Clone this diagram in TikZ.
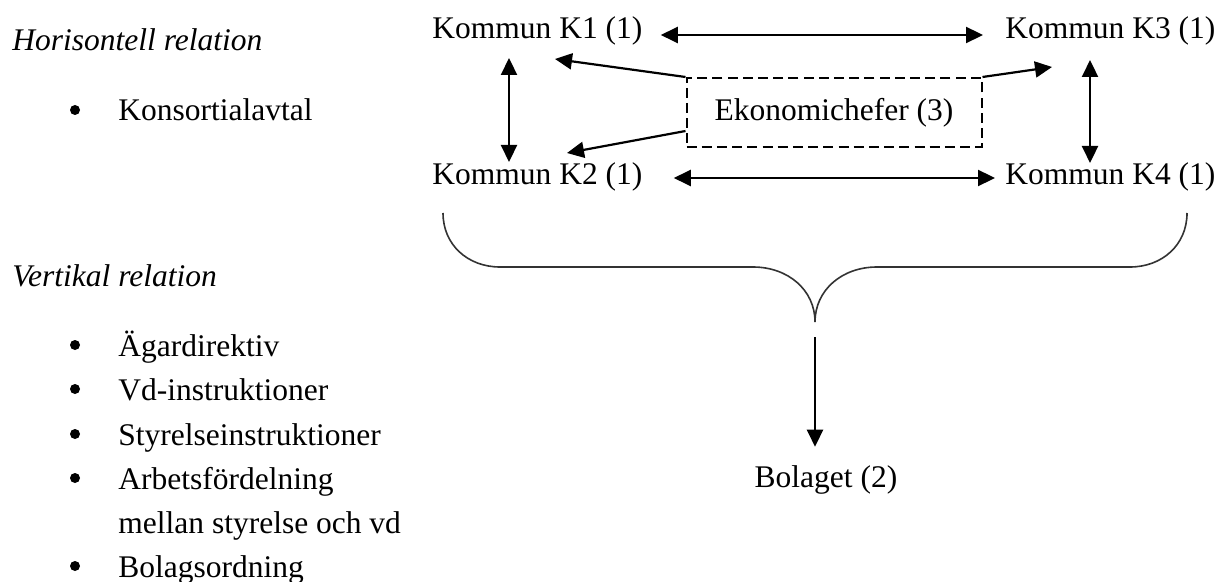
\documentclass[tikz,border=0pt]{standalone}
\usepackage{fontspec}
\setmainfont{Liberation Serif}
\usetikzlibrary{arrows.meta,calc}
\begin{document}
\begin{tikzpicture}[x=0.5pt,y=-0.5pt,
  txt/.style={inner sep=0pt, font=\fontsize{15.75pt}{19pt}\selectfont},
  head/.style={txt, anchor=base west, font=\fontsize{15.75pt}{19pt}\selectfont\itshape},
  item/.style={txt, anchor=base west},
  kommun/.style={txt, anchor=base west},
  tip/.tip={Triangle[length=8.5pt,width=8pt]},
  link/.style={line width=1.1pt, tip-tip},
  ptr/.style={line width=1.1pt, -tip},
  bull/.style={circle, fill, inner sep=0pt, minimum size=5pt},
  dashbox/.style={txt, draw, line width=1pt, dash pattern=on 5pt off 2.6pt,
    minimum width=147.5pt, minimum height=34.5pt},
  brace/.style={line width=0.8pt, draw=black!80}
]
\useasboundingbox (0,0) rectangle (1218,582);

% left column: relation types
\node[head] (hor) at (12,51) {Horisontell relation};
\node[bull] (b0) at (75,110) {};
\node[item] (kons) at (118,121) {Konsortialavtal};

\node[head] (ver) at (12,286) {Vertikal relation};
\node[bull] (b1) at (75,345) {};
\node[item] (i1) at (118,356) {Ägardirektiv};
\node[bull] (b2) at (75,389) {};
\node[item] (i2) at (118,400) {Vd-instruktioner};
\node[bull] (b3) at (75,434) {};
\node[item] (i3) at (118,445) {Styrelseinstruktioner};
\node[bull] (b4) at (75,478) {};
\node[item] (i4) at (118,489) {Arbetsfördelning};
\node[item] (i4b) at (118,533) {mellan styrelse och vd};
\node[bull] (b5) at (75,566) {};
\node[item] (i5) at (118,577) {Bolagsordning};

% municipalities
\node[kommun] (K1) at (432,39) {Kommun K1 (1)};
\node[kommun] (K3) at (1005,39) {Kommun K3 (1)};
\node[kommun] (K2) at (432,185) {Kommun K2 (1)};
\node[kommun] (K4) at (1005,185) {Kommun K4 (1)};

% finance managers
\node[dashbox] (eko) at (834,112.5) {Ekonomichefer (3)};

% company
\node[txt, anchor=base] (bol) at (826,487) {Bolaget (2)};

% horizontal links
\draw[link] ($(K1.base east)+(18,-4)$) -- ($(K3.base west)+(-22,-4)$);
\draw[link] ($(K2.base east)+(31,-7)$) -- ($(K4.base west)+(-10,-7)$);

% vertical links
\draw[link] ($(K1.base west)+(77,19)$) -- ($(K2.base west)+(77,-23)$);
\draw[link] ($(K3.base west)+(85,21)$) -- ($(K4.base west)+(85,-22)$);

% arrows from the finance managers
\draw[ptr] (eko.north west) -- ($(K1.base west)+(123,20)$);
\draw[ptr] ($(eko.north west)+(0,54)$) -- ($(K2.base west)+(135,-32)$);
\draw[ptr] (eko.north east) -- ($(K3.base west)+(47,28)$);

% brace gathering the municipalities
\coordinate (bl) at (443,213);
\coordinate (br) at (1187,213);
\coordinate (cusp) at (815,322);
\draw[brace] (bl) .. controls (443,245) and (468,267) .. (500,267)
  -- (753,267) .. controls (788,267) and (815,290) .. (cusp)
  .. controls (815,290) and (842,267) .. (877,267)
  -- (1130,267) .. controls (1162,267) and (1187,245) .. (br);

% ownership arrow
\draw[ptr, shorten <=7.5pt, shorten >=9pt] (cusp) -- (cusp |- bol.north);
\end{tikzpicture}
\end{document}
